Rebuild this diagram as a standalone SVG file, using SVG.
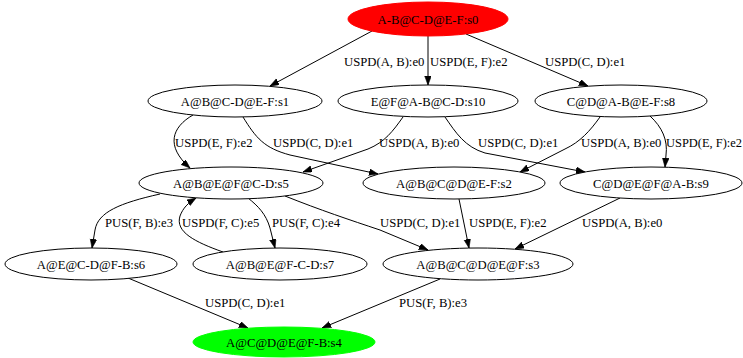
<svg xmlns="http://www.w3.org/2000/svg" width="743" height="358" viewBox="0 0 743 358">
  <style>
    .node ellipse { fill: #ffffff; stroke: #000000; stroke-width: 1; }
    .node text { font-family: "Liberation Serif", "Times New Roman", serif; font-size: 12.7px; fill: #000000; text-anchor: middle; }
    #s0 ellipse { fill: #ff0000; stroke: #ff0000; }
    #s4 ellipse { fill: #00ff00; stroke: #00ff00; }
    .edges path { fill: none; stroke: #000000; stroke-width: 1; marker-end: url(#arrow); }
    .edges text { font-family: "Liberation Serif", "Times New Roman", serif; font-size: 12.7px; fill: #000000; }
  </style>
  <defs>
    <marker id="arrow" markerUnits="userSpaceOnUse" markerWidth="10" markerHeight="8" refX="9" refY="3.3" orient="auto">
      <path d="M0,0 L9,3.3 L0,6.6 Z" fill="#000000" stroke="#000000" stroke-width="0.6"/>
    </marker>
  </defs>

  <rect width="743" height="358" fill="#ffffff"/>

  <!-- connectors -->
  <g id="edges" class="edges">
    <path d="M372,31 L270,86"/>
    <text x="344" y="66">USPD(A, B):e0</text>
    <path d="M428,36 L428,85"/>
    <text x="430" y="66">USPD(E, F):e2</text>
    <path d="M466,34 L588,86"/>
    <text x="545" y="66">USPD(C, D):e1</text>

    <path d="M193,115 C172,127 165,146 190,168"/>
    <text x="175" y="147">USPD(E, F):e2</text>
    <path d="M243,117 C256,138 264,148 290,155 L378,174"/>
    <text x="273" y="147">USPD(C, D):e1</text>
    <path d="M403,117 C393,131 385,142 368,149 L303,172"/>
    <text x="379" y="147">USPD(A, B):e0</text>
    <path d="M445,117 C456,133 465,147 485,153 L585,172"/>
    <text x="478" y="147">USPD(C, D):e1</text>
    <path d="M600,117 C590,131 580,142 565,149 L520,172"/>
    <text x="581" y="147">USPD(A, B):e0</text>
    <path d="M650,116 C662,127 668,140 666,155 L665,167"/>
    <text x="666" y="147" textLength="76" lengthAdjust="spacingAndGlyphs">USPD(E, F):e2</text>

    <path d="M160,194 C120,203 98,212 95,230 L92,248"/>
    <text x="105" y="227">PUS(F, B):e3</text>
    <path d="M223,252 C195,242 175,232 180,216 C183,208 188,203 196,198"/>
    <text x="182" y="227">USPD(F, C):e5</text>
    <path d="M248,198 C258,206 266,214 270,228 L275,248"/>
    <text x="272" y="227">PUS(F, C):e4</text>
    <path d="M285,196 C320,210 350,220 380,230 L428,250"/>
    <text x="380" y="227">USPD(C, D):e1</text>
    <path d="M459,199 L469,248"/>
    <text x="469" y="227">USPD(E, F):e2</text>
    <path d="M620,198 L515,249"/>
    <text x="582" y="227">USPD(A, B):e0</text>

    <path d="M128,278 L248,328"/>
    <text x="205" y="307">USPD(C, D):e1</text>
    <path d="M440,279 L322,328"/>
    <text x="399" y="307">PUS(F, B):e3</text>
  </g>

  <!-- states -->
  <g id="s0" class="node"><ellipse cx="428" cy="19" rx="80" ry="17"/><text x="428" y="23.5">A-B@C-D@E-F:s0</text></g>
  <g id="s1" class="node"><ellipse cx="235" cy="101" rx="87" ry="16"/><text x="235" y="105.5">A@B@C-D@E-F:s1</text></g>
  <g id="s10" class="node"><ellipse cx="428" cy="101" rx="90" ry="16"/><text x="428" y="105.5">E@F@A-B@C-D:s10</text></g>
  <g id="s8" class="node"><ellipse cx="621" cy="101" rx="86" ry="16"/><text x="621" y="105.5">C@D@A-B@E-F:s8</text></g>
  <g id="s5" class="node"><ellipse cx="231" cy="183" rx="92" ry="16"/><text x="231" y="187.5">A@B@E@F@C-D:s5</text></g>
  <g id="s2" class="node"><ellipse cx="454" cy="183" rx="91" ry="16"/><text x="454" y="187.5">A@B@C@D@E-F:s2</text></g>
  <g id="s9" class="node"><ellipse cx="651" cy="183" rx="91" ry="16"/><text x="651" y="187.5">C@D@E@F@A-B:s9</text></g>
  <g id="s6" class="node"><ellipse cx="91" cy="264" rx="86" ry="16"/><text x="91" y="268.5">A@E@C-D@F-B:s6</text></g>
  <g id="s7" class="node"><ellipse cx="280" cy="264" rx="87" ry="16"/><text x="280" y="268.5">A@B@E@F-C-D:s7</text></g>
  <g id="s3" class="node"><ellipse cx="478" cy="264" rx="95" ry="16"/><text x="478" y="268.5">A@B@C@D@E@F:s3</text></g>
  <g id="s4" class="node"><ellipse cx="284" cy="342" rx="91" ry="15"/><text x="284" y="346.5">A@C@D@E@F-B:s4</text></g>
</svg>
